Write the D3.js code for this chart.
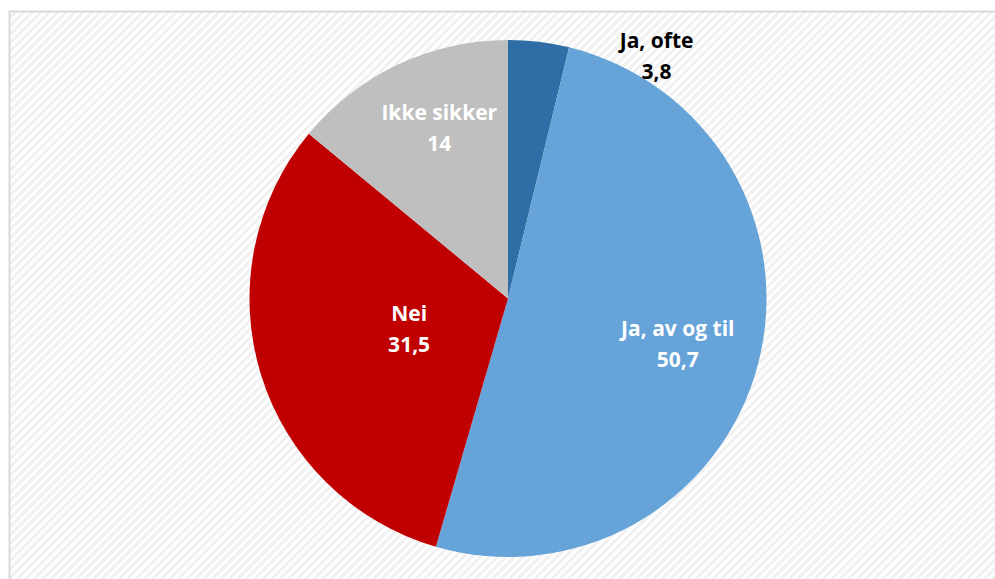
<!DOCTYPE html>
<html>
<head>
<meta charset="utf-8">
<script src="https://cdn.jsdelivr.net/npm/d3@7"></script>
<style>
  html, body { margin: 0; padding: 0; background: #ffffff; }
  svg { display: block; }
</style>
</head>
<body>
<svg id="chart" width="995" height="579"></svg>
<script>
// Survey answers, in percent, drawn clockwise from 12 o'clock
const categories = ["Ja, ofte", "Ja, av og til", "Nei", "Ikke sikker"];
const values = [3.8, 50.7, 31.5, 14];
const valueLabels = ["3,8", "50,7", "31,5", "14"];
const colors = ["#2e6da6", "#66a3d9", "#c00000", "#bfbfbf"];
const labelColors = ["#000000", "#ffffff", "#ffffff", "#ffffff"];

// Label placement: polar offset from the pie centre (degrees clockwise from top, fraction of radius)
const labelPlacement = [
  { angle: 31.5, r: 1.10 },
  { angle: 105, r: 0.68 },
  { angle: 253, r: 0.40 },
  { angle: 338, r: 0.71 }
];

const svg = d3.select("#chart");
const W = 995, H = 579;

// Diagonal hatched plot background
const defs = svg.append("defs");
const pat = defs.append("pattern")
  .attr("id", "hatch")
  .attr("patternUnits", "userSpaceOnUse")
  .attr("width", 6).attr("height", 6)
  .attr("patternTransform", "rotate(-45)");
pat.append("rect").attr("width", 6).attr("height", 6).attr("fill", "#ffffff");
pat.append("rect").attr("width", 6).attr("height", 3).attr("fill", "#f1f1f1");

svg.append("rect")
  .attr("x", 9.5).attr("y", 11.5)
  .attr("width", W + 10).attr("height", H + 10)
  .attr("fill", "url(#hatch)")
  .attr("stroke", "#d9d9d9")
  .attr("stroke-width", 2);

const cx = 508, cy = 298.5, radius = 258.5;

const pie = d3.pie().sort(null).value(d => d)(values);
const arc = d3.arc().innerRadius(0).outerRadius(radius);

const g = svg.append("g").attr("transform", `translate(${cx},${cy})`);

g.selectAll("path.slice")
  .data(pie)
  .join("path")
  .attr("class", "slice")
  .attr("d", arc)
  .attr("fill", (d, i) => colors[i]);

const fontFamily = "'Open Sans', Lato, sans-serif";
const labels = g.selectAll("text.lbl")
  .data(pie)
  .join("text")
  .attr("class", "lbl")
  .attr("text-anchor", "middle")
  .attr("font-family", fontFamily)
  .attr("font-weight", "bold")
  .attr("font-size", 21)
  .attr("fill", (d, i) => labelColors[i])
  .attr("transform", (d, i) => {
    const p = labelPlacement[i];
    const a = p.angle * Math.PI / 180;
    const x = Math.sin(a) * p.r * radius;
    const y = -Math.cos(a) * p.r * radius;
    return `translate(${x},${y})`;
  });

labels.append("tspan")
  .attr("x", 0).attr("y", -8)
  .text((d, i) => categories[i]);
labels.append("tspan")
  .attr("x", 0).attr("y", 23)
  .text((d, i) => valueLabels[i]);
</script>
</body>
</html>
